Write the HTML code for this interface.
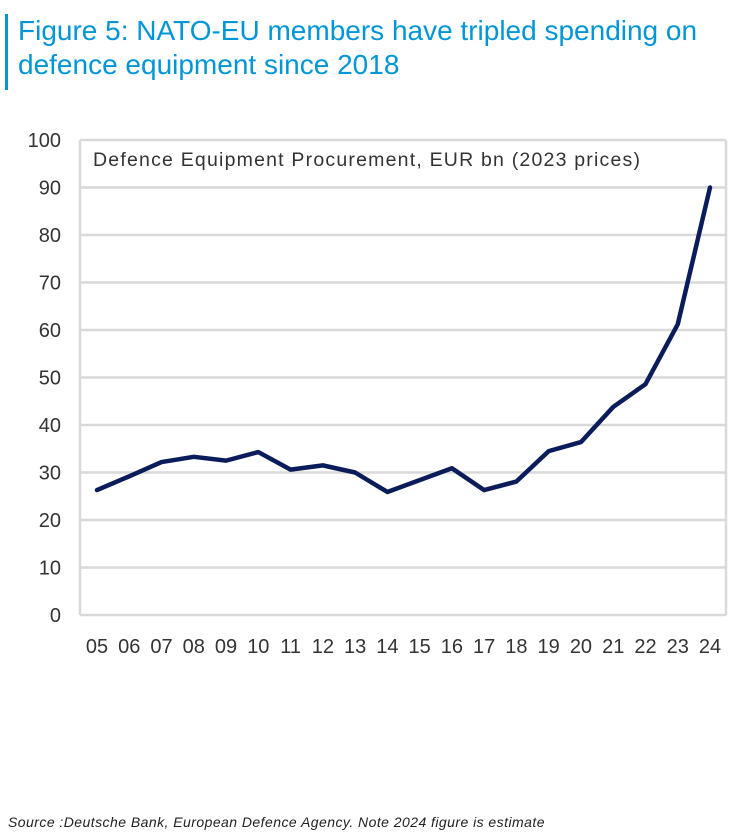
<!DOCTYPE html>
<html><head><meta charset="utf-8"><style>
body{margin:0;width:747px;height:838px;background:#fff;font-family:"Liberation Sans",sans-serif;overflow:hidden;position:relative}
#title{position:absolute;left:5px;top:14px;height:76px;border-left:3px solid #0096d6;padding-left:10px;color:#0096d6;font-size:28px;line-height:34px;margin:0;font-weight:normal;white-space:nowrap}
#src{position:absolute;left:8px;top:814px;font-size:14px;letter-spacing:0.45px;font-style:italic;color:#222;white-space:nowrap}
svg{position:absolute;left:0;top:0}
</style></head><body>
<h1 id="title">Figure 5: NATO-EU members have tripled spending on<br>defence equipment since 2018</h1>
<svg id="c" width="747" height="838"></svg>
<div id="src">Source :Deutsche Bank, European Defence Agency. Note 2024 figure is estimate</div>
<script>
const categories=["05","06","07","08","09","10","11","12","13","14","15","16","17","18","19","20","21","22","23","24"];
const values=[26.3,29.2,32.2,33.3,32.5,34.3,30.6,31.5,30.0,25.9,28.4,30.9,26.3,28.1,34.5,36.4,43.8,48.6,61.2,90.0];
const yTicks=[0,10,20,30,40,50,60,70,80,90,100];
const L=80,R=726,T=140,B=615;
const y=v=>B-(v/100)*(B-T);
const x=i=>97+i*(710-97)/(categories.length-1);
const s=document.getElementById('c');const NS="http://www.w3.org/2000/svg";
function mk(t,a){const e=document.createElementNS(NS,t);for(const k in a)e.setAttribute(k,a[k]);s.appendChild(e);return e;}
yTicks.forEach(v=>{
 const g=mk('line',{x1:L,x2:R,y1:y(v),y2:y(v),stroke:'#d9d9d9','stroke-width':2.5});
 
 
 const t=mk('text',{x:61,y:y(v)+7,'text-anchor':'end','font-size':20,fill:'#333','font-family':'Liberation Sans, sans-serif'});
 t.textContent=v;
 
 
});
[L,R].forEach(xx=>{const e=mk('line',{x1:xx,x2:xx,y1:T,y2:B,stroke:'#d9d9d9','stroke-width':2.5});
 
 });
categories.forEach((c,i)=>{const t=mk('text',{x:x(i),y:653,'text-anchor':'middle','font-size':20,fill:'#333','font-family':'Liberation Sans, sans-serif'});
 t.textContent=c;
 
 });
const st=mk('text',{x:93,y:166,'font-size':19.5,fill:'#333','font-family':'Liberation Sans, sans-serif',textLength:547,lengthAdjust:'spacing'});
st.textContent='Defence Equipment Procurement, EUR bn (2023 prices)';


const p=mk('polyline',{points:values.map((v,i)=>x(i)+','+y(v)).join(' '),fill:'none',stroke:'#0a1d5a','stroke-width':4.5,'stroke-linejoin':'round','stroke-linecap':'round'});


</script>
</body></html>
